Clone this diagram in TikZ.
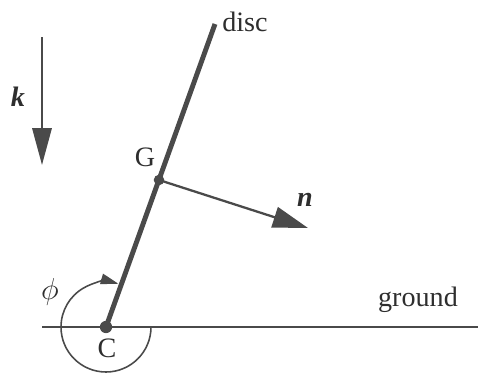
\documentclass[tikz,border=0pt]{standalone}
\usepackage{fontspec}
\setmainfont{Liberation Serif}
\usetikzlibrary{arrows.meta}
\definecolor{ink}{HTML}{4A4A4A}
\definecolor{txt}{HTML}{2E2E2E}
\begin{document}
\begin{tikzpicture}[x=0.02cm,y=0.02cm,
  lbl/.style={text=txt,font=\fontsize{16}{18}\selectfont,inner sep=0pt},
  vec/.style={draw=ink,line width=1.3pt,-{Triangle[length=20pt,width=12pt]}},
  thin/.style={draw=ink,line width=0.9pt},
  rod/.style={draw=ink,line width=2.8pt},
  dot/.style={circle,fill=ink,inner sep=0pt}]
\useasboundingbox (0,0) rectangle (481,373);
\coordinate (C) at (106,46);
\coordinate (D) at (215,349);
\coordinate (G) at (159,193);
\coordinate (N) at (308,145);
\coordinate (K1) at (42,336);
\coordinate (K2) at (42,208);
\coordinate (GL) at (42,46);
\coordinate (GR) at (478,46);
% ground
\draw[thin] (GL) -- (GR);
% rod
\draw[rod] (C) -- (D);
% n vector
\draw[vec] (G) -- (N);
% k vector
\draw[vec,-{Triangle[length=21pt,width=11pt]}] (K1) -- (K2);
% phi arc
\draw[thin,-{Triangle[length=10pt,width=6pt]}] ([shift={(0:45)}]C) arc[start angle=0,end angle=-286,radius=45];
% dots
\node[dot,minimum size=7pt] (Cd) at (C) {};
\node[dot,minimum size=6pt] (Gd) at (G) {};
% labels
\node[lbl] (disc) at (245,351) {disc};
\node[lbl] (Glab) at (145,216) {G};
\node[lbl] (Clab) at (107,25) {C};
\node[lbl] (nlab) at (305,173) {\textbf{\textit{n}}};
\node[lbl] (klab) at (18,276) {\textbf{\textit{k}}};
\node[lbl] (phil) at (50,81) {$\phi$};
\node[lbl] (grd) at (418,73) {ground};
\end{tikzpicture}
\end{document}
